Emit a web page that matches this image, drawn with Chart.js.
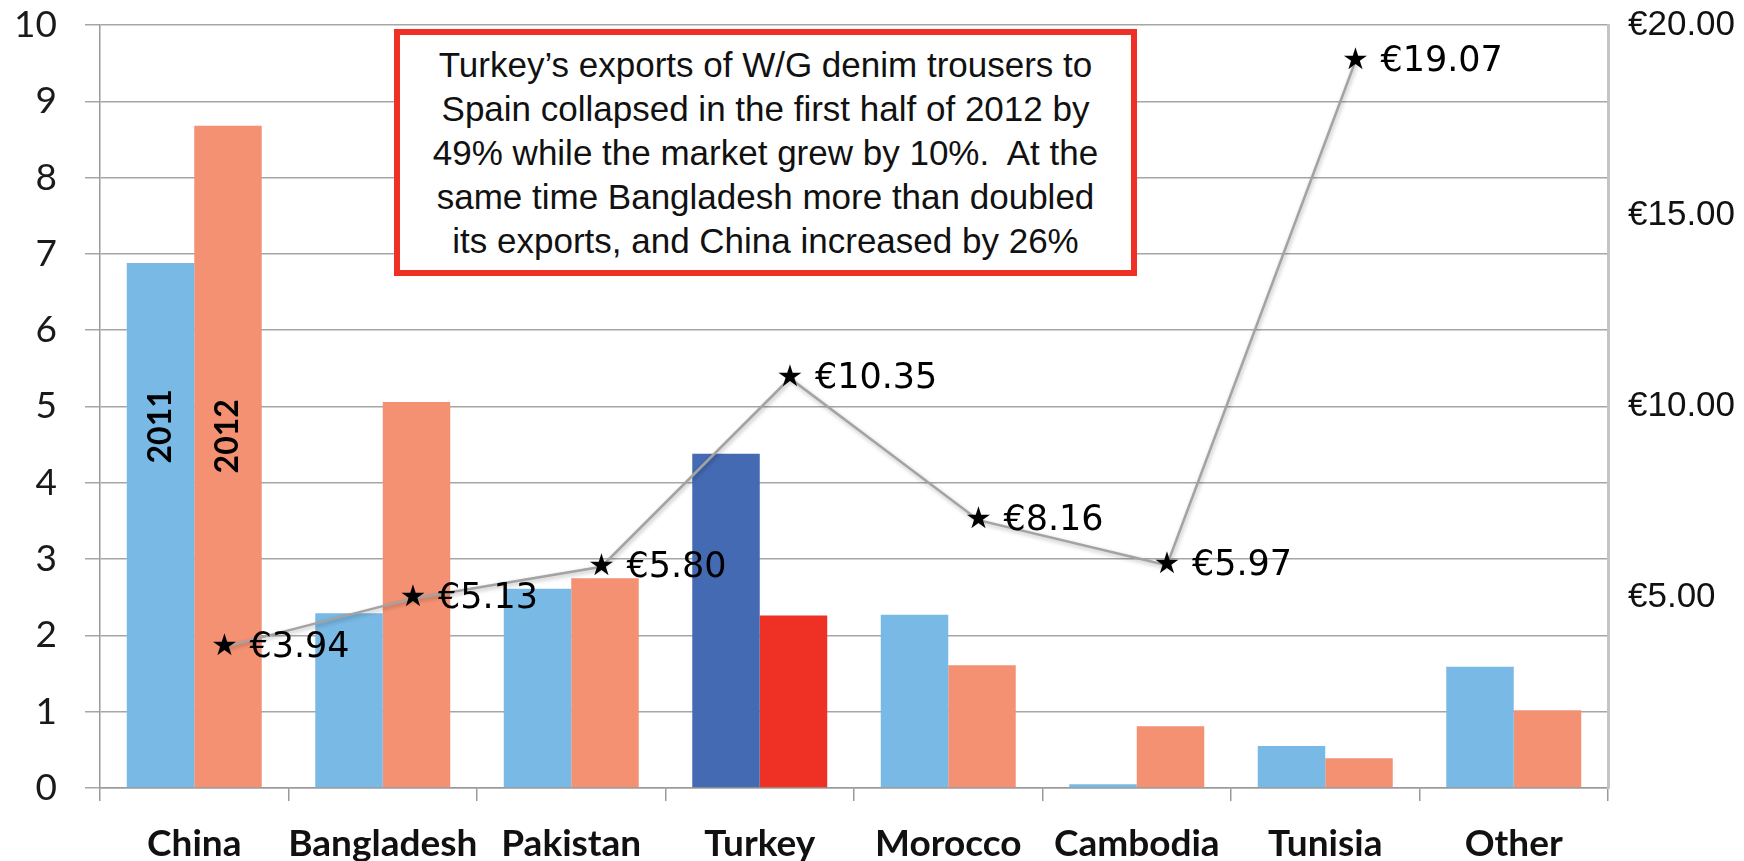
<!DOCTYPE html>
<html>
<head>
<meta charset="utf-8">
<script src="https://cdn.jsdelivr.net/npm/chart.js@4/dist/chart.umd.min.js"></script>
<style>
  html, body { margin: 0; padding: 0; background: #ffffff; }
  #wrap { position: relative; width: 1744px; height: 861px; overflow: hidden; }
  #c { position: absolute; left: 0; top: 0; }
  #note {
    position: absolute; left: 394px; top: 29px; width: 743px; height: 247px;
    box-sizing: border-box; border: 6px solid #EE3124; background: #ffffff;
    font-family: "Liberation Sans", Arial, sans-serif; font-size: 35px; line-height: 44px;
    text-align: center; color: #111111; padding-top: 8px; white-space: nowrap;
  }
</style>
</head>
<body>
<div id="wrap">
  <canvas id="c" width="1744" height="861"></canvas>
  <div id="note">Turkey’s exports of W/G denim trousers to<br>Spain collapsed in the first half of 2012 by<br>49% while the market grew by 10%.&nbsp; At the<br>same time Bangladesh more than doubled<br>its exports, and China increased by 26%</div>
</div>
<script>
// ---- data ----
const categories = ['China', 'Bangladesh', 'Pakistan', 'Turkey', 'Morocco', 'Cambodia', 'Tunisia', 'Other'];
const exports2011 = [6.88, 2.29, 2.61, 4.38, 2.27, 0.05, 0.55, 1.59];
const exports2012 = [8.68, 5.06, 2.75, 2.26, 1.61, 0.81, 0.39, 1.02];
// average price line (right axis), as plotted in the picture
const avgPrice = [3.70, 4.97, 5.80, 10.74, 7.02, 5.84, 19.05, null];
// printed price labels
const priceLabels = ['€3.94', '€5.13', '€5.80', '€10.35', '€8.16', '€5.97', '€19.07', null];
const seriesNames = ['2011', '2012'];
const highlightCategory = 'Turkey';
const leftTickMax = 10;
const rightTickMax = 20;
const rightTickStep = 5;

// ---- styles ----
const colLightBlue = '#78B9E6';
const colSalmon = '#F59173';
const colDarkBlue = '#436AB2';
const colRed = '#EE3124';
const lineShift = 0.16; // price line sits a little right of the category centres (fraction of a category)

const bg2011 = categories.map(c => c === highlightCategory ? colDarkBlue : colLightBlue);
const bg2012 = categories.map(c => c === highlightCategory ? colRed : colSalmon);

function shiftPx(chart) {
  const x = chart.scales.x;
  return lineShift * (x.getPixelForValue(1) - x.getPixelForValue(0));
}

const lineStyle = {
  id: 'lineStyle',
  beforeDatasetDraw(chart, args) {
    if (args.index !== 0) return;
    const ctx = chart.ctx;
    ctx.save();
    ctx.translate(shiftPx(chart), 0);
    ctx.shadowColor = 'rgba(0,0,0,0.28)';
    ctx.shadowBlur = 4;
    ctx.shadowOffsetX = 1;
    ctx.shadowOffsetY = 2;
  },
  afterDatasetDraw(chart, args) {
    if (args.index !== 0) return;
    chart.ctx.restore();
  }
};

const annotations = {
  id: 'annotations',
  afterDatasetsDraw(chart) {
    const ctx = chart.ctx;
    const dx = shiftPx(chart);
    ctx.save();
    // price stars + labels
    const meta = chart.getDatasetMeta(0);
    meta.data.forEach((pt, i) => {
      if (avgPrice[i] == null || priceLabels[i] == null) return;
      ctx.fillStyle = '#000000';
      ctx.textBaseline = 'middle';
      ctx.textAlign = 'center';
      ctx.font = '30px "DejaVu Sans"';
      ctx.fillText('★', pt.x + dx, pt.y);
      ctx.textAlign = 'left';
      ctx.font = '35px "DejaVu Sans"';
      ctx.fillText(priceLabels[i], pt.x + dx + 25, pt.y + 1);
    });
    // series names inside the first pair of bars
    const yScale = chart.scales.y;
    const tagAt = [4.74, 4.61];
    [1, 2].forEach((di, k) => {
      const bar = chart.getDatasetMeta(di).data[0];
      ctx.save();
      ctx.translate(bar.x, yScale.getPixelForValue(tagAt[k]));
      ctx.rotate(-Math.PI / 2);
      ctx.textAlign = 'center';
      ctx.textBaseline = 'middle';
      ctx.font = 'bold 32px Lato';
      ctx.fillStyle = '#000000';
      ctx.fillText(seriesNames[k], 0, 0);
      ctx.restore();
    });
    ctx.restore();
  }
};

new Chart(document.getElementById('c'), {
  type: 'bar',
  data: {
    labels: categories,
    datasets: [
      {
        type: 'line', label: 'Average price', data: avgPrice,
        yAxisID: 'y2', order: 0,
        borderColor: '#A3A3A3', borderWidth: 2.5, pointRadius: 0, tension: 0, spanGaps: false
      },
      { label: seriesNames[0], data: exports2011, backgroundColor: bg2011, yAxisID: 'y', order: 1 },
      { label: seriesNames[1], data: exports2012, backgroundColor: bg2012, yAxisID: 'y', order: 1 }
    ]
  },
  options: {
    responsive: false,
    animation: false,
    devicePixelRatio: 1,
    layout: { padding: { top: 25, left: 0, right: 0, bottom: 0 } },
    datasets: { bar: { categoryPercentage: 0.716, barPercentage: 1.0 } },
    plugins: { legend: { display: false }, tooltip: { enabled: false } },
    scales: {
      x: {
        type: 'category', position: 'bottom',
        grid: { display: true, drawOnChartArea: false, drawTicks: true, tickLength: 13, color: '#9A9A9A', lineWidth: 1.5, offset: true },
        border: { display: true, color: '#9A9A9A', width: 1.5 },
        ticks: { font: { family: 'Lato', weight: 'bold', size: 37 }, color: '#111111', padding: 21, maxRotation: 0, autoSkip: false },
        afterFit(s) { s.height = 73; }
      },
      y: {
        position: 'left', min: 0, max: leftTickMax,
        ticks: { stepSize: 1, font: { family: 'Lato', size: 37 }, color: '#1a1a1a', padding: 28 },
        grid: { color: '#A6A6A6', lineWidth: 1.5, tickLength: 15, drawTicks: true },
        border: { display: true, color: '#9A9A9A', width: 1.5 },
        afterFit(s) { s.width = 100; s.paddingTop = 0; s.paddingBottom = 0; }
      },
      y2: {
        position: 'right', min: 0, max: rightTickMax,
        ticks: {
          stepSize: rightTickStep, padding: 20, color: '#111111',
          font: { family: '"Liberation Sans"', size: 35 },
          callback: v => v === 0 ? '' : '€' + Number(v).toFixed(2)
        },
        grid: { display: false, drawTicks: false, drawOnChartArea: false },
        border: { display: true, color: '#C4C4C4', width: 3 },
        afterFit(s) { s.width = 136; s.paddingTop = 0; s.paddingBottom = 0; }
      }
    }
  },
  plugins: [lineStyle, annotations]
});
</script>
</body>
</html>
